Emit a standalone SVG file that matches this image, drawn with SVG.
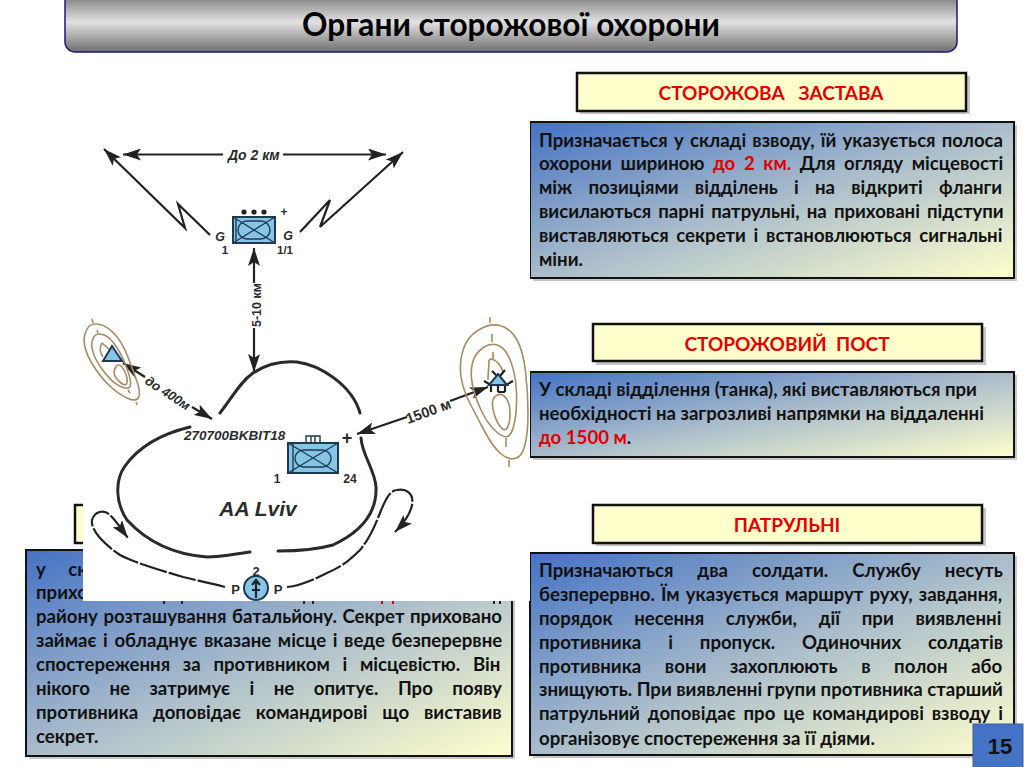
<svg xmlns="http://www.w3.org/2000/svg" width="1024" height="767" viewBox="0 0 1024 767">
<style>
.t{font-family:"Lato","Open Sans","Liberation Sans",sans-serif;font-weight:700;font-size:18.6px;fill:#111}
.r{fill:#e00000}
.h{font-family:"Lato","Liberation Sans",sans-serif;font-weight:700;font-size:19px;fill:#e60000;text-anchor:middle;white-space:pre}
.box{fill:#ffffcc;stroke:#111;stroke-width:2.5}
.sh{fill:#999;opacity:.55}
.pan{fill:url(#pg);stroke:#111;stroke-width:2}
.l{font-family:"Liberation Sans",sans-serif;font-weight:700;fill:#2b2b2b}
.i{font-style:italic}
.ln{fill:none;stroke:#222;stroke-width:2.2}
.b{fill:none;stroke:#2a2a2a;stroke-width:3;stroke-linecap:round}
.c{fill:none;stroke:#a98a63;stroke-width:1.6}
.u{fill:#86c5e8;stroke:#1f3a50;stroke-width:2}
.x{fill:none;stroke:#1f3a50;stroke-width:1.4}
</style>
<defs>
<linearGradient id="tg" x1="0" y1="0" x2="0" y2="1"><stop offset="0" stop-color="#6e6e6e"/><stop offset=".5" stop-color="#e2e2e2"/><stop offset="1" stop-color="#6e6e6e"/></linearGradient>
<linearGradient id="pg" x1="0" y1="0" x2="1" y2="1"><stop offset="0" stop-color="#4472c4"/><stop offset=".5" stop-color="#a9bccb"/><stop offset="1" stop-color="#ffffcc"/></linearGradient>
<marker id="a" markerUnits="userSpaceOnUse" markerWidth="20" markerHeight="12" refX="18" refY="6" orient="auto"><path d="M0 0L18 6L0 12L4 6Z" fill="#222"/></marker>
</defs>
<rect width="1024" height="767" fill="#fff"/>
<g id="title"><rect x="65" y="-8" width="892" height="60" rx="10" fill="url(#tg)" stroke="#1a1a78" stroke-width="1.5"/>
<text x="511" y="36" text-anchor="middle" font-family="Lato,sans-serif" font-weight="700" font-size="31.6" fill="#000">Органи сторожової охорони</text></g>
<g id="header1"><rect class="sh" x="580" y="76" width="390" height="38"/><rect class="box" x="577" y="73" width="389" height="38"/><text class="h" x="771" y="100">СТОРОЖОВА   ЗАСТАВА</text></g>
<g id="header2"><rect class="sh" x="596" y="327" width="390" height="38"/><rect class="box" x="593" y="324" width="389" height="37"/><text class="h" x="787" y="351" word-spacing="-1.5">СТОРОЖОВИЙ   ПОСТ</text></g>
<g id="header3"><rect class="sh" x="596" y="508" width="390" height="38"/><rect class="box" x="593" y="505" width="389" height="38"/><text class="h" x="787" y="532">ПАТРУЛЬНІ</text></g>
<g id="header4"><rect class="box" x="75" y="505" width="100" height="38"/></g>
<g id="panel1"><rect class="sh" x="533" y="125" width="484" height="156"/><rect class="pan" x="530" y="122" width="484" height="156"/>
<text class="t"><tspan x="539" y="146.500" word-spacing="1.7">Призначається у складі взводу, їй указується полоса</tspan><tspan x="539" y="170" word-spacing="4.1">охорони шириною <tspan class="r">до 2 км.</tspan> Для огляду місцевості</tspan><tspan x="539" y="194" word-spacing="11.7">між позиціями відділень і на відкриті фланги</tspan><tspan x="539" y="218" word-spacing="2.6">висилаються  парні патрульні, на приховані підступи</tspan><tspan x="539" y="242" word-spacing="3.2">виставляються секрети і встановлюються сигнальні</tspan><tspan x="539" y="266">міни.</tspan></text></g>
<g id="panel2"><rect class="sh" x="533" y="375" width="484" height="85"/><rect class="pan" x="530" y="372" width="484" height="85"/>
<text class="t"><tspan x="539" y="396">У складі відділення (танка), які виставляються при</tspan><tspan x="539" y="420">необхідності на загрозливі напрямки на віддаленні</tspan><tspan x="539" y="444" class="r">до 1500 м<tspan fill="#111">.</tspan></tspan></text></g>
<g id="panel3"><rect class="sh" x="533" y="556" width="484" height="202"/><rect class="pan" x="530" y="553" width="484" height="202"/>
<text class="t"><tspan x="539" y="577" word-spacing="19.5">Призначаються два солдати. Службу несуть</tspan><tspan x="539" y="601" word-spacing="1.6">безперервно. Їм указується маршрут руху, завдання,</tspan><tspan x="539" y="625" word-spacing="17.2">порядок несення служби, дії при виявленні</tspan><tspan x="539" y="649" word-spacing="22.4">противника і пропуск. Одиночних солдатів</tspan><tspan x="539" y="673" word-spacing="19.1">противника вони захоплюють в полон або</tspan><tspan x="539" y="696">знищують. При виявленні групи противника старший</tspan><tspan x="539" y="720" word-spacing="3.3">патрульний доповідає про це командирові взводу і</tspan><tspan x="539" y="744.500">організовує спостереження за її діями.</tspan></text></g>
<g id="panel4"><rect class="sh" x="29" y="553" width="486" height="206"/><rect class="pan" x="26" y="550" width="486" height="206"/>
<text class="t"><tspan x="36" y="576" word-spacing="18">у ск</tspan><tspan x="36" y="599">прихо</tspan><tspan x="36" y="623" word-spacing="1">району розташування батальйону. Секрет приховано</tspan><tspan x="36" y="647" word-spacing="2.1">займає і обладнує вказане місце і веде безперервне</tspan><tspan x="36" y="671" word-spacing="8.2">спостереження за противником і місцевістю. Він</tspan><tspan x="36" y="695" word-spacing="15">нікого не затримує і не опитує. Про появу</tspan><tspan x="36" y="719" word-spacing="10.3">противника доповідає командирові що виставив</tspan><tspan x="36" y="743">секрет.</tspan></text></g>
<g id="page"><rect x="973" y="724" width="50" height="44" fill="#4472c4" stroke="#3a5f9f"/><text x="1000" y="754" text-anchor="middle" font-family="Liberation Sans,sans-serif" font-weight="700" font-size="22" fill="#111">15</text></g>
<rect id="map" x="83" y="120" width="447" height="481" fill="#fff"/>
<g id="fragments" fill="#222"><rect x="163" y="601" width="2" height="3"/><rect x="181" y="601" width="2" height="3"/><rect x="303" y="601" width="2" height="3"/><rect x="312" y="601" width="2" height="3"/><rect x="381" y="601" width="2" height="3" fill="#d00"/><rect x="392" y="601" width="2" height="3" fill="#d00"/><rect x="493" y="601" width="2" height="3"/><rect x="499" y="601" width="2" height="3"/></g>
<g id="connectors">
<path class="ln" d="M223 154.500H123" marker-end="url(#a)"/>
<path class="ln" d="M283 154.500H386" marker-end="url(#a)"/>
<path class="ln" d="M210 235L178 204L185 228L104 149" marker-end="url(#a)"/>
<path class="ln" d="M300 232L330 200L320 227L403 152" marker-end="url(#a)"/>
<path class="ln" d="M254 283V248" marker-end="url(#a)"/>
<path class="ln" d="M254 328V372" marker-end="url(#a)"/>
<path class="ln" d="M145 377L123 363" marker-end="url(#a)"/>
<path class="ln" d="M192 407L212 419" marker-end="url(#a)"/>
<path class="ln" d="M407 417L357 434" marker-end="url(#a)"/>
<path class="ln" d="M450 401L488 387" marker-end="url(#a)"/>
<path class="ln" stroke-dasharray="28 2" d="M225 587C205 582 195 580 183 577C160 570 135 563 120 555C105 545 90 530 92 520C95 510 105 510 110 515C117 522 122 530 128 538" marker-end="url(#a)"/>
<path class="ln" stroke-dasharray="28 2" d="M287 587C300 586 315 579 327 573C345 565 352 558 360 550C372 535 375 525 380 513C385 500 390 490 397 490C408 488 414 495 412 505C410 515 402 525 395 532" marker-end="url(#a)"/>
</g>
<g id="base">
<path class="b" d="M220 413C232 398 240 382 253 373C268 363 285 361 297 362C320 365 352 385 360 413"/>
<path class="b" d="M361 438C362 455 375 470 376 487C377 510 365 530 333 545C315 550 295 551 278 551"/>
<path class="b" d="M250 552C235 554 220 557 207 557C180 555 150 545 127 520C115 502 115 480 125 466C140 445 165 433 190 427"/>
<text class="l i" x="184" y="440" font-size="13.500">270700BKBIT18</text>
<text class="l i" x="258" y="516" font-size="21" text-anchor="middle" fill="#444">AA Lviv</text>
</g>
<g id="unit-top">
<rect class="u" x="233" y="217" width="42" height="26"/><path class="x" d="M233 217L275 243M275 217L233 243M236 217V243"/><rect class="x" x="238" y="221" width="32" height="18" rx="9"/>
<circle cx="244" cy="212" r="2.600" fill="#222"/><circle cx="254" cy="212" r="2.600" fill="#222"/><circle cx="264" cy="212" r="2.600" fill="#222"/>
<text class="l" x="284" y="216" font-size="12" text-anchor="middle">+</text>
<text class="l i" x="220" y="241" font-size="12.500" text-anchor="middle">G</text><text class="l" x="225" y="254" font-size="11.500" text-anchor="middle">1</text>
<text class="l i" x="288" y="240" font-size="12.500" text-anchor="middle">G</text><text class="l" x="285" y="254" font-size="11.500" text-anchor="middle">1/1</text>
<text class="l i" x="228" y="160" font-size="14">До 2 км</text>
<text class="l" transform="translate(261 327) rotate(-90)" font-size="12.500">5-10 км</text>
</g>
<g id="hill-left">
<path class="c" d="M100 324.500Q107 326 114.500 334Q122 342 127.500 356Q133 370 137 381.500Q141 393 138.500 397.500Q136 402 128 398.500Q120 395 111.500 387.500Q103 380 95.500 369Q88 358 85.500 349Q83 340 85 334Q87 328 90 325.500Q93 323 100 324.500Z"/>
<path class="c" d="M104 335Q110 337 116.500 347Q123 357 127.500 370Q132 383 130 386.500Q128 390 120.500 386.500Q113 383 105 373Q97 363 94 355Q91 347 92 342Q93 337 95.500 335Q98 333 104 335Z"/>
<path class="c" d="M121.500 366.500Q125 370 126.500 376Q128 382 126.500 384Q125 386 121 383Q117 380 115 376Q113 372 115.500 367.500Q118 363 121.500 366.500Z"/>
<path class="c" d="M102 343Q98 350 103 357M102 343L110 350"/>
<path class="c" d="M93 323L92 319M98 333L97 330M136 402L137 405M128 390L130 393"/>
<path class="u" d="M112 346L122 361H103Z"/>
<text class="l" transform="translate(144 383) rotate(33)" font-size="13" font-style="italic">до 400м</text>
</g>
<g id="unit-main">
<rect class="u" x="288" y="443" width="50" height="30"/><path class="x" d="M288 443L338 473M338 443L288 473M293 443V473"/><rect class="x" x="295" y="450" width="36" height="17" rx="8.500"/>
<path class="x" d="M306 442V436H320V442M311 436V442M315 436V442"/>
<text class="l" x="347" y="444" font-size="18" text-anchor="middle">+</text>
<text class="l" x="350" y="483" font-size="12" text-anchor="middle">24</text>
<text class="l" x="277" y="483" font-size="12" text-anchor="middle">1</text>
</g>
<g id="hill-right">
<path class="c" d="M500 325.500Q510 328 516.500 339Q523 350 525.500 371.500Q528 393 528 413Q528 433 525 445Q522 457 515 458.500Q508 460 500.500 453.500Q493 447 485 432Q477 417 470 403.500Q463 390 461 376.500Q459 363 463 350Q467 337 478.500 330Q490 323 500 325.500Z"/>
<path class="c" d="M499.500 346Q507 350 511.500 363.500Q516 377 516.500 393.500Q517 410 514.500 422.500Q512 435 507.500 436.500Q503 438 495 430.500Q487 423 481 410Q475 397 472.500 385Q470 373 472.500 363Q475 353 483.500 347.500Q492 342 499.500 346Z"/>
<path class="c" d="M506 398Q510 403 510 413Q510 423 507.500 427.500Q505 432 501 427.500Q497 423 494.500 415Q492 407 492.500 402Q493 397 497.500 395Q502 393 506 398Z"/>
<path class="c" d="M503 372Q500 362 492 359Q488 359 489 363Q488 375 488 380"/>
<path class="c" d="M490 317V323M492 334V342M493 352V359M509 460V467M506 438V447"/>
<text class="l" transform="translate(408 424) rotate(-20)" font-size="14.500">1500 м</text>
<path class="ln" stroke-width="1.800" d="M492 371L497 376M505 370L500 376M484 381L491 385M513 381L506 385M491 385V392M498 385V392M505 385V392M498 392H505"/>
<path class="u" d="M498 374L507 385H489Z" stroke-width="1.500"/>
</g>
<g id="unit-patrol">
<circle class="u" cx="256" cy="588" r="12"/><path class="ln" stroke-width="1.500" d="M256 598V580M252 585L256 580L260 585M252 590H260"/>
<text class="l" x="256" y="576" font-size="13" text-anchor="middle">2</text>
<text class="l" x="235.500" y="594" font-size="13" text-anchor="middle">P</text>
<text class="l" x="278" y="594" font-size="13" text-anchor="middle">P</text>
</g>
</svg>
